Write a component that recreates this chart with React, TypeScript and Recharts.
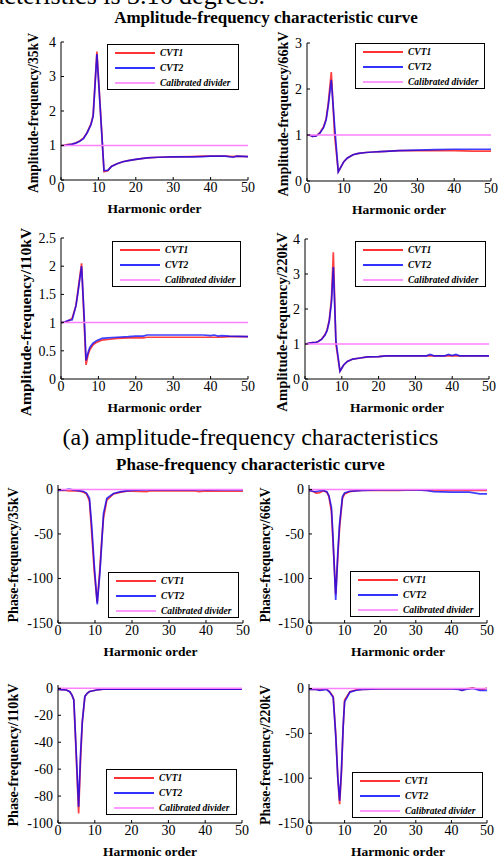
import { LineChart, Line, XAxis, YAxis, Legend } from 'recharts';

// harmonic order ticks
const xTicks = [0, 10, 20, 30, 40, 50];

// amplitude-frequency, 35kV
const amp35X = [0, 1, 2, 3, 4, 5, 6, 7, 8, 8.6, 9.6, 10.5, 11.5, 12.5, 13.5, 15, 16.5, 18, 20, 23, 26, 30, 35, 38, 40, 44, 46, 47, 50];
const amp35Cvt1 = [1.0, 1.01, 1.03, 1.04, 1.08, 1.13, 1.21, 1.38, 1.62, 1.88, 3.72, 2.1, 0.24, 0.27, 0.4, 0.47, 0.53, 0.56, 0.6, 0.64, 0.66, 0.67, 0.68, 0.69, 0.69, 0.69, 0.68, 0.69, 0.68];
const amp35Cvt2 = [1.0, 1.0, 1.02, 1.04, 1.07, 1.12, 1.2, 1.37, 1.6, 1.85, 3.65, 2.05, 0.27, 0.28, 0.39, 0.47, 0.53, 0.56, 0.6, 0.64, 0.66, 0.67, 0.67, 0.68, 0.69, 0.69, 0.66, 0.69, 0.68];

// amplitude-frequency, 66kV
const amp66X = [0, 1, 1.5, 2.5, 3.5, 4.5, 5.2, 5.8, 6.6, 7.5, 8.5, 9.2, 10, 11, 12.5, 14, 16, 18, 20, 25, 30, 35, 40, 45, 50];
const amp66Cvt1 = [1.0, 0.99, 0.97, 0.98, 1.05, 1.18, 1.35, 1.7, 2.37, 1.0, 0.2, 0.3, 0.42, 0.5, 0.57, 0.6, 0.62, 0.63, 0.64, 0.66, 0.66, 0.66, 0.66, 0.65, 0.65];
const amp66Cvt2 = [1.0, 0.99, 0.97, 0.98, 1.04, 1.16, 1.33, 1.65, 2.2, 1.2, 0.2, 0.3, 0.42, 0.5, 0.57, 0.6, 0.62, 0.63, 0.64, 0.66, 0.67, 0.68, 0.69, 0.69, 0.69];

// amplitude-frequency, 110kV
const amp110X = [0, 1, 2, 3, 4, 4.5, 5.5, 6.2, 6.7, 7.2, 7.7, 8.5, 9.5, 11, 12.5, 15, 18, 20, 22, 23, 30, 35, 38, 40, 41, 42, 43, 45, 50];
const amp110Cvt1 = [1.0, 1.01, 1.03, 1.08, 1.3, 1.55, 2.05, 1.0, 0.25, 0.42, 0.52, 0.6, 0.65, 0.69, 0.7, 0.72, 0.73, 0.73, 0.73, 0.74, 0.74, 0.74, 0.74, 0.74, 0.74, 0.74, 0.74, 0.75, 0.75];
const amp110Cvt2 = [1.0, 1.01, 1.04, 1.05, 1.3, 1.52, 2.0, 1.1, 0.33, 0.46, 0.56, 0.63, 0.68, 0.72, 0.73, 0.74, 0.75, 0.76, 0.76, 0.78, 0.78, 0.78, 0.78, 0.77, 0.78, 0.76, 0.77, 0.76, 0.75];

// amplitude-frequency, 220kV
const amp220X = [0, 1, 2, 3, 3.6, 4.5, 5.4, 6, 6.6, 7.2, 7.7, 8.4, 9.5, 10.5, 11.5, 13, 15, 17, 20, 22, 30, 33, 34, 35, 38, 39, 40, 41, 42, 45, 50];
const amp220Cvt1 = [1.0, 1.02, 1.04, 1.05, 1.07, 1.14, 1.26, 1.4, 1.69, 2.3, 3.62, 1.0, 0.22, 0.4, 0.5, 0.57, 0.6, 0.63, 0.64, 0.66, 0.66, 0.66, 0.67, 0.66, 0.66, 0.67, 0.66, 0.67, 0.66, 0.66, 0.66];
const amp220Cvt2 = [1.0, 1.02, 1.04, 1.05, 1.07, 1.13, 1.25, 1.38, 1.65, 2.2, 3.2, 1.1, 0.22, 0.4, 0.5, 0.57, 0.6, 0.63, 0.64, 0.66, 0.66, 0.66, 0.7, 0.66, 0.66, 0.7, 0.67, 0.7, 0.66, 0.66, 0.66];

// phase-frequency, 35kV
const ph35X = [0, 2, 3, 4, 5, 6, 6.8, 7.7, 8.5, 9.1, 9.8, 10.6, 11.3, 11.8, 12.3, 13.2, 15, 17, 18.6, 20, 24, 25, 30, 37, 38, 40, 45, 50];
const ph35Cvt1 = [-1, -1, -1.5, -1.5, -1.5, -2, -3, -5, -13, -48, -92, -127, -90, -58, -32, -12, -5, -3, -2, -2, -2.5, -1.5, -1.5, -1.5, -2.5, -1.5, -2, -2];
const ph35Cvt2 = [-1, -0.5, 0.5, -0.5, -1, -1.5, -2, -4, -10, -40, -85, -129, -95, -62, -27, -10, -4.5, -2.5, -1.5, -1, -0.5, -0.5, -0.5, -0.5, -0.5, -0.5, -0.5, -0.5];

// phase-frequency, 66kV
const ph66X = [0, 1, 2, 3, 4, 5, 5.6, 6.3, 6.7, 7.5, 8.1, 8.6, 9.4, 10, 11.4, 13, 15, 20, 25, 30, 33, 35, 40, 45, 48, 50];
const ph66Cvt1 = [-1, -2, -4, -3.5, -1.5, -3, -8, -25, -55, -118, -75, -42, -10, -5, -2.5, -1.5, -1, -1, -1, -0.5, -1, -1, -1, -1, -1, -1];
const ph66Cvt2 = [-1, -2, -2.5, -1.5, -1, -2.5, -7, -20, -50, -124, -70, -38, -8, -4, -2, -1.5, -1, -0.5, -0.5, -0.5, -1, -2.5, -3, -3, -5, -5];

// phase-frequency, 110kV
const ph110X = [0, 1, 2.3, 3.2, 3.8, 4.3, 4.8, 5.6, 6.1, 6.6, 7.3, 8, 8.6, 10.5, 12.3, 20, 30, 40, 50];
const ph110Cvt1 = [-0.8, -1, -1.2, -2.5, -5, -8.6, -40, -93, -55, -25, -6, -3.5, -2.3, -1.2, -0.5, -0.5, -0.5, -0.5, -0.5];
const ph110Cvt2 = [-0.8, -1, -1.2, -2.5, -5, -8.6, -38, -88, -50, -25, -6, -3.5, -2.3, -1.2, -0.5, -0.5, -0.5, -0.5, -0.5];

// phase-frequency, 220kV
const ph220X = [0, 2, 3, 4, 4.9, 5.8, 6.8, 7.5, 8.1, 8.6, 9.1, 9.6, 10, 11.5, 13.3, 15, 20, 30, 40, 42, 43, 44, 46, 48, 49, 50];
const ph220Cvt1 = [-1, -1, -1.5, -1, -0.5, -3.7, -9, -50, -100, -129, -95, -43, -13, -3.7, -1.5, -1, -0.5, -0.5, -0.5, -0.5, -2, -0.5, 0.5, -1, -1, 0.5];
const ph220Cvt2 = [-1, -1, -2, -1.5, -1, -4, -10, -52, -100, -125, -92, -42, -15, -4, -2, -1, -0.5, -0.5, -0.5, -1, -2, -1, 0, -2, -2, -2];

// calibrated divider (flat reference)
const calX = [0, 50];
const ampCal = [1, 1];
const phaseCal = [0, 0];

const ampTicks4 = [0, 1, 2, 3, 4];
const ampTicks3 = [0, 1, 2, 3];
const ampTicks25 = [0, 0.5, 1, 1.5, 2, 2.5];
const phTicks150 = [-150, -100, -50, 0];
const phTicks100 = [-100, -80, -60, -40, -20, 0];

const FONT = '"Liberation Serif", "Times New Roman", serif';

const pts = (xs: number[], ys: number[]) => xs.map((x, i) => ({ x, y: ys[i] }));

const LegendBox = ({ payload, width }: any) => (
  <div
    style={{
      width,
      height: 46,
      boxSizing: 'border-box',
      border: '1.5px solid #000',
      background: '#fff',
      fontFamily: FONT,
      fontStyle: 'italic',
      fontWeight: 'bold',
      fontSize: 9.5,
      color: '#000'
    }}
  >
    {(payload || []).map((p: any) => (
      <div key={p.value} style={{ height: 15, display: 'flex', alignItems: 'center' }}>
        <svg width={52} height={4} style={{ flexShrink: 0 }}>
          <line x1={7} y1={2} x2={47} y2={2} stroke={p.color} strokeWidth={1.8} strokeOpacity={0.8} />
        </svg>
        <span>{p.value}</span>
      </div>
    ))}
  </div>
);

interface PanelProps {
  left: number;
  top: number;
  w: number;
  h: number;
  x: number[];
  cvt1: number[];
  cvt2: number[];
  cal: number[];
  domain: [number, number];
  ticks: number[];
  yLabel: string;
  labelGap: number;
  labelSize: number;
  labelCenter: number;
  legendLeft: number;
  legendTop: number;
  legendWidth: number;
}

const Panel = (p: PanelProps) => {
  const ml = 60;
  const mt = 30;
  const width = ml + p.w + 10;
  const height = mt + p.h + 50;
  const chartLeft = p.left - ml;
  const chartTop = p.top - mt;
  const tickStyle = { fill: '#000', fontSize: 14, fontFamily: FONT };
  return (
    <div style={{ position: 'absolute', left: chartLeft, top: chartTop }}>
      <LineChart width={width} height={height} margin={{ top: mt, right: 10, bottom: 0, left: 0 }}>
        <XAxis
          dataKey="x"
          type="number"
          domain={[0, 50]}
          ticks={xTicks}
          height={50}
          stroke="#000"
          tickSize={-3}
          tickMargin={5}
          tick={tickStyle}
          allowDataOverflow
          label={{ value: 'Harmonic order', position: 'insideBottom', offset: 17, style: { fontFamily: FONT, fontWeight: 'bold', fontSize: 13.5, fill: '#000' } }}
        />
        <XAxis xAxisId="top" orientation="top" type="number" domain={[0, 50]} ticks={xTicks} height={0} stroke="#000" tickSize={-3} tick={false} allowDataOverflow />
        <YAxis
          type="number"
          domain={p.domain}
          ticks={p.ticks}
          width={ml}
          stroke="#000"
          tickSize={-3}
          tickMargin={8}
          tick={tickStyle}
          allowDataOverflow
          label={{
            value: p.yLabel,
            angle: -90,
            position: 'insideLeft',
            offset: ml - p.labelGap,
            dy: p.labelCenter - (p.top + p.h / 2),
            style: { textAnchor: 'middle', fontFamily: FONT, fontWeight: 'bold', fontSize: p.labelSize, fill: '#000' }
          }}
        />
        <YAxis yAxisId="right" orientation="right" type="number" domain={p.domain} ticks={p.ticks} width={0} stroke="#000" tickSize={-3} tick={false} allowDataOverflow />
        <Legend
          layout="horizontal"
          verticalAlign="middle"
          align="center"
          wrapperStyle={{ left: p.legendLeft - chartLeft, top: p.legendTop - chartTop, width: p.legendWidth, height: 46 }}
          content={(props: any) => <LegendBox payload={props.payload} width={p.legendWidth} />}
        />
        <Line data={pts(p.x, p.cvt1)} dataKey="y" name="CVT1" type="linear" stroke="#ff0000" strokeOpacity={0.75} strokeWidth={1.7} dot={false} isAnimationActive={false} />
        <Line data={pts(p.x, p.cvt2)} dataKey="y" name="CVT2" type="linear" stroke="#0000ff" strokeOpacity={0.75} strokeWidth={1.7} dot={false} isAnimationActive={false} />
        <Line data={pts(calX, p.cal)} dataKey="y" name="Calibrated divider" type="linear" stroke="#ff80ff" strokeWidth={1.5} dot={false} isAnimationActive={false} />
      </LineChart>
    </div>
  );
};

const App = () => {
  return (
    <div style={{ position: 'absolute', left: 0, top: 0, width: 501, height: 859, overflow: 'hidden', background: '#fff', fontFamily: FONT, color: '#000' }}>
      <div style={{ position: 'absolute', right: 236, top: -14, fontSize: 26, lineHeight: '20px', whiteSpace: 'nowrap' }}>
        characteristics is 3.16 degrees.
      </div>
      <div style={{ position: 'absolute', left: 0, width: 532, top: 8, textAlign: 'center', fontSize: 17, fontWeight: 'bold', lineHeight: '20px', whiteSpace: 'nowrap' }}>
        Amplitude-frequency characteristic curve
      </div>

      <Panel left={61} top={42} w={187} h={138} x={amp35X} cvt1={amp35Cvt1} cvt2={amp35Cvt2} cal={ampCal} domain={[0, 4]} ticks={ampTicks4} yLabel="Amplitude-frequency/35kV" labelGap={28} labelSize={13.7} labelCenter={113} legendLeft={107} legendTop={44} legendWidth={132} />
      <Panel left={307} top={43} w={184} h={138} x={amp66X} cvt1={amp66Cvt1} cvt2={amp66Cvt2} cal={ampCal} domain={[0, 3]} ticks={ampTicks3} yLabel="Amplitude-frequency/66kV" labelGap={24} labelSize={14.1} labelCenter={114} legendLeft={355} legendTop={43} legendWidth={130} />
      <Panel left={61} top={238} w={187} h={141} x={amp110X} cvt1={amp110Cvt1} cvt2={amp110Cvt2} cal={ampCal} domain={[0, 2.5]} ticks={ampTicks25} yLabel="Amplitude-frequency/110kV" labelGap={36} labelSize={15.5} labelCenter={322} legendLeft={112} legendTop={241} legendWidth={129} />
      <Panel left={305} top={239} w={184} h={140} x={amp220X} cvt1={amp220Cvt1} cvt2={amp220Cvt2} cal={ampCal} domain={[0, 4]} ticks={ampTicks4} yLabel="Amplitude-frequency/220kV" labelGap={23} labelSize={14.7} labelCenter={322} legendLeft={355} legendTop={241} legendWidth={131} />

      <div style={{ position: 'absolute', left: 0, width: 501, top: 423, textAlign: 'center', fontSize: 24, lineHeight: '28px', whiteSpace: 'nowrap' }}>
        (a) amplitude-frequency characteristics
      </div>
      <div style={{ position: 'absolute', left: 0, width: 501, top: 455, textAlign: 'center', fontSize: 17, fontWeight: 'bold', lineHeight: '20px', whiteSpace: 'nowrap' }}>
        Phase-frequency characteristic curve
      </div>

      <Panel left={58} top={485} w={185} h={138} x={ph35X} cvt1={ph35Cvt1} cvt2={ph35Cvt2} cal={phaseCal} domain={[-150, 5]} ticks={phTicks150} yLabel="Phase-frequency/35kV" labelGap={45} labelSize={14} labelCenter={555} legendLeft={108} legendTop={572} legendWidth={131} />
      <Panel left={309} top={485} w={178} h={138} x={ph66X} cvt1={ph66Cvt1} cvt2={ph66Cvt2} cal={phaseCal} domain={[-150, 5]} ticks={phTicks150} yLabel="Phase-frequency/66kV" labelGap={44} labelSize={14} labelCenter={555} legendLeft={350} legendTop={571} legendWidth={130} />
      <Panel left={58} top={685} w={184} h={138} x={ph110X} cvt1={ph110Cvt1} cvt2={ph110Cvt2} cal={phaseCal} domain={[-100, 2.5]} ticks={phTicks100} yLabel="Phase-frequency/110kV" labelGap={45} labelSize={14.2} labelCenter={755} legendLeft={106} legendTop={769} legendWidth={131} />
      <Panel left={309} top={684} w={178} h={139} x={ph220X} cvt1={ph220Cvt1} cvt2={ph220Cvt2} cal={phaseCal} domain={[-150, 5]} ticks={phTicks150} yLabel="Phase-frequency/220kV" labelGap={44} labelSize={13.8} labelCenter={755} legendLeft={352} legendTop={772} legendWidth={131} />
    </div>
  );
};

export default App;
